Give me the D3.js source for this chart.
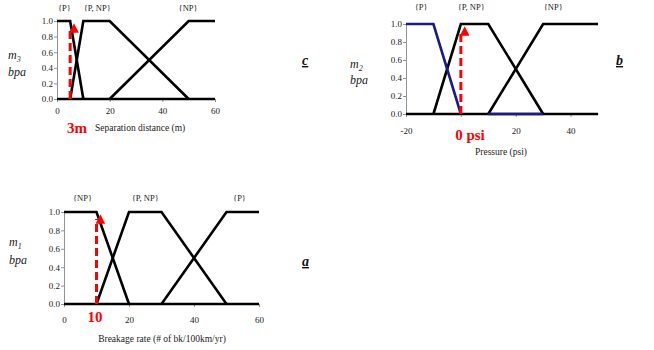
<!DOCTYPE html>
<html>
<head>
<meta charset="utf-8">
<script src="https://cdnjs.cloudflare.com/ajax/libs/d3/7.8.5/d3.min.js"></script>
<style>
  body { margin: 0; background: #fff; }
  text { font-family: "Liberation Serif", "DejaVu Serif", serif; }
</style>
</head>
<body>
<div class="chart"></div>
<script>
const yTicks = [0, 0.2, 0.4, 0.6, 0.8, 1.0];

// panel c : separation distance
const cTicks = [0, 20, 40, 60];
const cP = [[0, 1], [5, 1], [10, 0]];
const cPNP = [[5, 0], [10, 1], [20, 1], [50, 0]];
const cNP = [[20, 0], [50, 1], [60, 1]];
const cNames = ["{P}", "{P, NP}", "{NP}"];
const cInput = 5;

// panel b : pressure
const bTicks = [-20, 0, 20, 40];
const bP = [[-20, 1], [-10, 1], [0, 0]];
const bPtail = [[10, 0], [30, 0]];
const bPNP = [[-10, 0], [0, 1], [10, 1], [30, 0]];
const bNP = [[10, 0], [30, 1], [50, 1]];
const bNames = ["{P}", "{P, NP}", "{NP}"];
const bInput = 0;

// panel a : breakage rate
const aTicks = [0, 20, 40, 60];
const aNP = [[0, 1], [10, 1], [20, 0]];
const aPNP = [[10, 0], [20, 1], [30, 1], [50, 0]];
const aP = [[30, 0], [50, 1], [60, 1]];
const aNames = ["{NP}", "{P, NP}", "{P}"];
const aInput = 10;

const width = 654, height = 350;

const svg = d3.select(".chart").append("svg")
  .attr("width", width)
  .attr("height", height);

svg.append("defs").append("marker")
  .attr("id", "arrow")
  .attr("viewBox", "0 0 10 10")
  .attr("refX", 5).attr("refY", 1)
  .attr("markerWidth", 3.2).attr("markerHeight", 3.2)
  .attr("markerUnits", "strokeWidth")
  .attr("orient", "auto")
  .append("path")
  .attr("d", "M0,0 L10,5 L0,10 Z")
  .attr("fill", "#ff0000");

const panels = [
  {
    xDom: [0, 60], xRange: [57, 215], yRange: [99, 21], ticks: cTicks, tickY: 9,
    lines: [{ d: cP, c: "#000" }, { d: cPNP, c: "#000" }, { d: cNP, c: "#000" }],
    names: cNames, nameX: [2.8, 15.3, 49.8], nameY: 11,
    input: cInput, inputText: "3m", inputX: 77, inputY: 133, coverTick: false,
    title: "Separation distance (m)", titleX: 95, titleY: 131, titleAnchor: "start",
    sub: "3", mX: 8, mY: 59, bpaY: 76, letter: "c", letterX: 302, letterY: 65
  },
  {
    xDom: [-20, 50], xRange: [406, 598], yRange: [114, 24], ticks: bTicks, tickY: 14,
    lines: [{ d: bPNP, c: "#000" }, { d: bNP, c: "#000" }, { d: bP, c: "#1a1a8a" }, { d: bPtail, c: "#1a1a8a" }],
    names: bNames, nameX: [-14.5, 3.8, 33.7], nameY: 10,
    input: bInput, inputText: "0 psi", inputX: 470, inputY: 140, coverTick: true,
    title: "Pressure (psi)", titleX: 501, titleY: 155, titleAnchor: "middle",
    sub: "2", mX: 350, mY: 68, bpaY: 84, letter: "b", letterX: 616, letterY: 65
  },
  {
    xDom: [0, 60], xRange: [64, 259], yRange: [304, 212], ticks: aTicks, tickY: 13,
    lines: [{ d: aNP, c: "#000" }, { d: aPNP, c: "#000" }, { d: aP, c: "#000" }],
    names: aNames, nameX: [5.7, 25, 54], nameY: 201,
    input: aInput, inputText: "10", inputX: 95, inputY: 322, coverTick: false,
    title: "Breakage rate (# of bk/100km/yr)", titleX: 162, titleY: 342, titleAnchor: "middle",
    sub: "1", mX: 9, mY: 246, bpaY: 264, letter: "a", letterX: 302, letterY: 266
  }
];

panels.forEach(p => {
  const x = d3.scaleLinear().domain(p.xDom).range(p.xRange);
  const y = d3.scaleLinear().domain([0, 1]).range(p.yRange);
  const g = svg.append("g");

  // axes
  const yAx = g.append("g")
    .attr("transform", `translate(${p.xRange[0]},0)`)
    .call(d3.axisLeft(y).tickValues(yTicks).tickFormat(d3.format(".1f")).tickSize(3).tickSizeOuter(0));
  const xAx = g.append("g")
    .attr("transform", `translate(0,${p.yRange[0]})`)
    .call(d3.axisBottom(x).tickValues(p.ticks).tickFormat(d => String(d)).tickSize(3).tickSizeOuter(0));
  [yAx, xAx].forEach(ax => {
    ax.selectAll("path, line").attr("stroke", "#777").attr("stroke-width", 0.8);
    ax.selectAll("text").attr("fill", "#222").attr("font-size", "9px")
      .attr("font-family", "Liberation Serif, serif");
  });
  yAx.selectAll("text").attr("x", -4);
  xAx.selectAll("text").attr("y", p.tickY);
  // the red input label sits on top of this tick label
  if (p.coverTick) xAx.selectAll(".tick").filter(d => d === p.input).select("text").remove();

  const line = d3.line().x(d => x(d[0])).y(d => y(d[1]));

  // zero line along the bottom
  g.append("path")
    .attr("d", line([[p.xDom[0], 0], [p.xDom[1], 0]]))
    .attr("fill", "none").attr("stroke", "#000").attr("stroke-width", 2.6);

  g.selectAll(".mf")
    .data(p.lines)
    .enter()
    .append("path")
    .attr("class", "mf")
    .attr("d", d => line(d.d))
    .attr("fill", "none")
    .attr("stroke", d => d.c)
    .attr("stroke-width", 2.6)
    .attr("stroke-linejoin", "miter");

  // category names
  g.selectAll(".nm")
    .data(p.names)
    .enter()
    .append("text")
    .attr("class", "nm")
    .attr("x", (d, i) => x(p.nameX[i]))
    .attr("y", p.nameY)
    .attr("text-anchor", "middle")
    .attr("font-size", "8.5px")
    .attr("fill", "#222")
    .text(d => d);

  // red dashed input arrow
  g.append("line")
    .attr("x1", x(p.input)).attr("x2", x(p.input))
    .attr("y1", y(0)).attr("y2", y(1) + 7)
    .attr("stroke", "#ff0000")
    .attr("stroke-width", 3)
    .attr("stroke-dasharray", "8,4")
    .attr("marker-end", "url(#arrow)");

  g.append("text")
    .attr("x", p.inputX).attr("y", p.inputY)
    .attr("text-anchor", "middle")
    .attr("font-size", "15px")
    .attr("font-weight", "bold")
    .attr("fill", "#ff0000")
    .text(p.inputText);

  g.append("text")
    .attr("x", p.titleX).attr("y", p.titleY)
    .attr("text-anchor", p.titleAnchor)
    .attr("font-size", "9.5px")
    .attr("fill", "#222")
    .text(p.title);

  // m_i / bpa label
  const mt = g.append("text")
    .attr("x", p.mX).attr("y", p.mY)
    .attr("font-size", "12px")
    .attr("font-style", "italic")
    .attr("fill", "#222");
  mt.append("tspan").text("m");
  mt.append("tspan").attr("font-size", "8px").attr("dy", 3).text(p.sub);
  g.append("text")
    .attr("x", p.mX).attr("y", p.bpaY)
    .attr("font-size", "12px")
    .attr("font-style", "italic")
    .attr("fill", "#222")
    .text("bpa");

  g.append("text")
    .attr("x", p.letterX).attr("y", p.letterY)
    .attr("font-size", "14px")
    .attr("font-style", "italic")
    .attr("font-weight", "bold")
    .attr("text-decoration", "underline")
    .attr("fill", "#111")
    .text(p.letter);
});
</script>
</body>
</html>
